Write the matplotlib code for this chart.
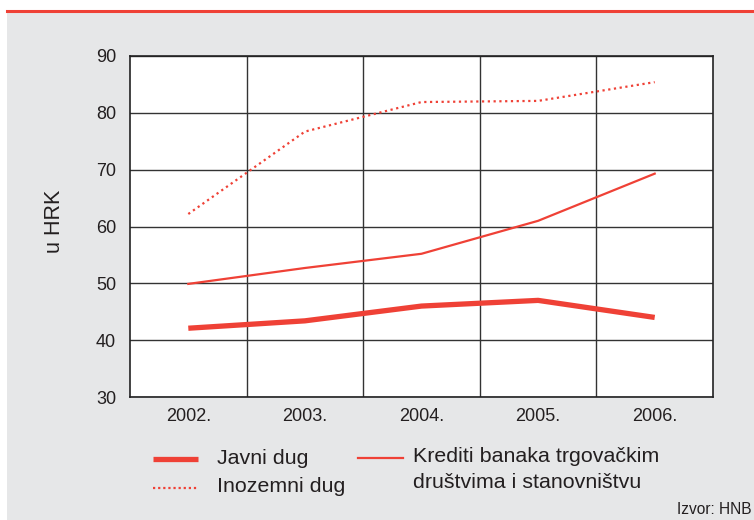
import matplotlib
matplotlib.use("Agg")
import matplotlib.pyplot as plt
from matplotlib.patches import Rectangle
from matplotlib.lines import Line2D

years = ["2002.", "2003.", "2004.", "2005.", "2006."]
javni_dug = [42.1, 43.4, 46.0, 47.0, 44.0]
inozemni_dug = [62.2, 76.7, 81.9, 82.1, 85.4]
krediti = [49.9, 52.7, 55.2, 61.0, 69.3]
y_ticks = [30, 40, 50, 60, 70, 80, 90]

RED = "#ef4136"
GRAY = "#e6e7e8"
TXT = "#231f20"
plt.rcParams['font.family'] = ['Liberation Sans', 'DejaVu Sans']

W, H = 754, 520
fig = plt.figure(figsize=(W / 100, H / 100), dpi=100)
fig.patch.set_facecolor("white")
fig.patches.append(Rectangle((7 / W, 0), 1 - 7 / W, 1 - 11 / H, transform=fig.transFigure,
                             facecolor=GRAY, edgecolor="none", zorder=-10))
fig.add_artist(Line2D([7 / W, 1], [1 - 11 / H, 1 - 11 / H], transform=fig.transFigure,
                      color=RED, lw=2.2))

ax = fig.add_axes([130 / W, 1 - 397 / H, (713 - 130) / W, (397 - 56) / H])
ax.set_facecolor("white")
x = list(range(len(years)))
ax.plot(x, javni_dug, color=RED, lw=3.8, solid_capstyle="butt")
ax.plot(x, krediti, color=RED, lw=1.6)
ax.plot(x, inozemni_dug, color=RED, lw=1.6, dashes=(1.0, 1.6))

ax.set_xlim(-0.5, 4.5)
ax.set_ylim(30, 90)
ax.set_yticks(y_ticks)
ax.set_xticks(x)
ax.set_xticklabels(years)
ax.set_xticks([0.5, 1.5, 2.5, 3.5], minor=True)
ax.tick_params(which="both", length=0)
ax.tick_params(axis="y", labelsize=13, pad=10, colors=TXT)
ax.tick_params(axis="x", labelsize=13, pad=8, colors=TXT)
ax.grid(axis="y", which="major", color="#333333", lw=1)
ax.grid(axis="x", which="minor", color="#333333", lw=1)
ax.grid(axis="x", which="major", visible=False)
for s in ax.spines.values():
    s.set_color("#222222")
    s.set_linewidth(1.2)
ax.set_axisbelow(True)

fig.text(55 / W, 1 - 221 / H, "u HRK", rotation=90, ha="center", va="center",
         fontsize=15.5, color=TXT)

# legend
def leg_line(x0, x1, y, **kw):
    fig.add_artist(Line2D([x0 / W, x1 / W], [1 - y / H, 1 - y / H], transform=fig.transFigure,
                          color=RED, **kw))

leg_line(153, 198, 459, lw=3.8, solid_capstyle="butt")
leg_line(153, 198, 488, lw=1.6, dashes=(1.0, 1.3))
leg_line(358, 403, 458, lw=1.6)
fs = 15.4
fig.text(217 / W, 1 - 458 / H, "Javni dug", fontsize=fs, va="center", color=TXT)
fig.text(217 / W, 1 - 487 / H, "Inozemni dug", fontsize=fs, va="center", color=TXT)
fig.text(413 / W, 1 - 457 / H, "Krediti banaka trgovačkim", fontsize=fs, va="center", color=TXT)
fig.text(413 / W, 1 - 483 / H, "društvima i stanovništvu", fontsize=fs, va="center", color=TXT)
fig.text(752 / W, 1 - 510 / H, "Izvor: HNB", fontsize=11.2, ha="right", va="center", color=TXT)

fig.savefig("out.png", dpi=100, facecolor=fig.get_facecolor())
